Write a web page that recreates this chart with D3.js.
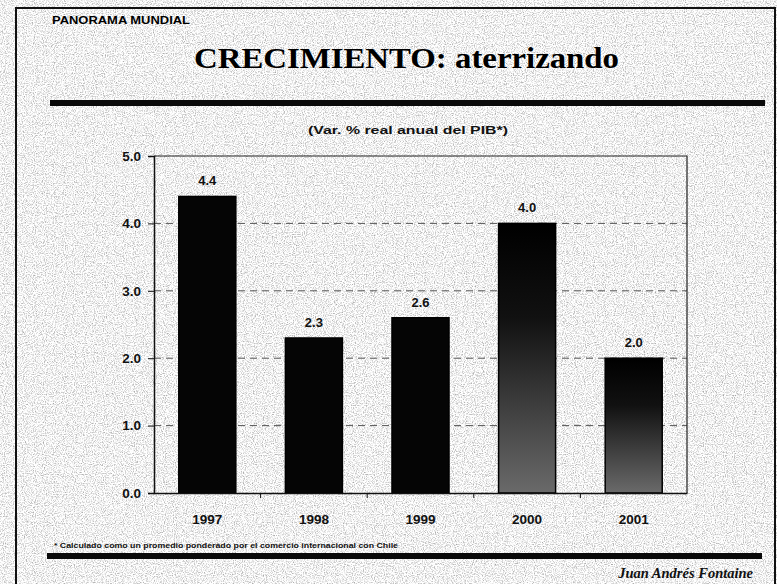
<!DOCTYPE html>
<html>
<head>
<meta charset="utf-8">
<script src="https://cdn.jsdelivr.net/npm/d3@7"></script>
<style>
  html, body { margin: 0; padding: 0; background: #fff; }
  svg { display: block; }
  .sans { font-family: Arial, "Liberation Sans", sans-serif; font-weight: bold; }
  .serif { font-family: "Times New Roman", "Liberation Serif", serif; }
</style>
</head>
<body>
<svg id="chart" width="777" height="584"></svg>
<script>
// GDP growth, real annual % change
const years = ["1997", "1998", "1999", "2000", "2001"];
const growth = [4.4, 2.3, 2.6, 4.0, 2.0];
const projected = [false, false, false, true, true];
const yTicks = [0, 1, 2, 3, 4, 5];

const W = 777, H = 584;
const svg = d3.select("#chart");

const defs = svg.append("defs");

// faint paper grain
const grain = defs.append("filter").attr("id", "grain")
  .attr("x", 0).attr("y", 0).attr("width", "100%").attr("height", "100%");
grain.append("feTurbulence").attr("type", "fractalNoise")
  .attr("baseFrequency", 0.9).attr("numOctaves", 2).attr("seed", 7).attr("result", "n");
grain.append("feColorMatrix").attr("in", "n").attr("type", "matrix")
  .attr("values", "0 0 0 0 0  0 0 0 0 0  0 0 0 0 0  0 0 0 -2.2 1.25");

// shading for projected years
const grad = defs.append("linearGradient").attr("id", "proj")
  .attr("x1", 0).attr("y1", 0).attr("x2", 0).attr("y2", 1);
grad.append("stop").attr("offset", "0%").attr("stop-color", "#000");
grad.append("stop").attr("offset", "35%").attr("stop-color", "#111");
grad.append("stop").attr("offset", "100%").attr("stop-color", "#6a6a6a");

svg.append("rect").attr("width", W).attr("height", H).attr("fill", "#fff");
svg.append("rect").attr("width", W).attr("height", H)
  .attr("filter", "url(#grain)").attr("opacity", 0.35);

// slide frame
svg.append("path").attr("d", `M16,${H} V8 H${W - 2} V${H}`)
  .attr("fill", "none").attr("stroke", "#111").attr("stroke-width", 2);

// header
svg.append("text").attr("class", "sans")
  .attr("x", 52).attr("y", 24).attr("font-size", 10.5)
  .attr("textLength", 138).attr("lengthAdjust", "spacingAndGlyphs")
  .attr("fill", "#000").text("PANORAMA MUNDIAL");

svg.append("text").attr("class", "serif")
  .attr("x", 194).attr("y", 68).attr("font-size", 30).attr("font-weight", "bold")
  .attr("textLength", 425).attr("lengthAdjust", "spacingAndGlyphs")
  .attr("fill", "#000").text("CRECIMIENTO:  aterrizando");

svg.append("rect").attr("x", 50).attr("y", 100).attr("width", 715).attr("height", 6).attr("fill", "#0a0a0a");

svg.append("text").attr("class", "sans")
  .attr("x", 408).attr("y", 134).attr("font-size", 11.5).attr("text-anchor", "middle")
  .attr("textLength", 200).attr("lengthAdjust", "spacingAndGlyphs")
  .attr("fill", "#111").text("(Var. % real anual del PIB*)");

// plot area bounds
const plotL = 154, plotR = 687, plotT = 156, plotB = 493;
const x = d3.scaleBand().domain(years).range([plotL, plotR])
  .paddingInner(0.465).paddingOuter(0.2325);
const y = d3.scaleLinear().domain([0, 5]).range([plotB, plotT]);

const g = svg.append("g");

// dashed gridlines
g.selectAll("line.grid").data(yTicks.filter(d => d > 0 && d < 5)).join("line")
  .attr("class", "grid")
  .attr("x1", plotL).attr("x2", plotR)
  .attr("y1", d => y(d)).attr("y2", d => y(d))
  .attr("stroke", "#555").attr("stroke-width", 1).attr("stroke-dasharray", "7,5");

// bars
g.selectAll("rect.bar").data(years).join("rect")
  .attr("class", "bar")
  .attr("x", d => x(d)).attr("width", x.bandwidth())
  .attr("y", (d, i) => y(growth[i]))
  .attr("height", (d, i) => y(0) - y(growth[i]))
  .attr("fill", (d, i) => projected[i] ? "url(#proj)" : "#050505")
  .attr("stroke", "#000").attr("stroke-width", 1.5);

// value labels
g.selectAll("text.val").data(years).join("text")
  .attr("class", "val sans")
  .attr("x", d => x(d) + x.bandwidth() / 2)
  .attr("y", (d, i) => y(growth[i]) - 11)
  .attr("text-anchor", "middle").attr("font-size", 13).attr("fill", "#111")
  .text((d, i) => growth[i].toFixed(1));

// plot frame (top and right edges)
g.append("path").attr("d", `M${plotL},${plotT} H${plotR} V${plotB}`)
  .attr("fill", "none").attr("stroke", "#222").attr("stroke-width", 1.2);

// y axis
const yAxis = g.append("g").attr("transform", `translate(${plotL},0)`)
  .call(d3.axisLeft(y).tickValues(yTicks).tickFormat(d3.format(".1f")).tickSize(6).tickPadding(7));
yAxis.select(".domain").attr("stroke", "#111").attr("stroke-width", 1.5);
yAxis.selectAll(".tick line").attr("stroke", "#111");
yAxis.selectAll("text").attr("class", "sans").attr("font-size", 13.5).attr("fill", "#111");

// x axis: ticks mark category boundaries
const xAxis = g.append("g").attr("transform", `translate(0,${plotB})`)
  .call(d3.axisBottom(x).tickSize(0).tickPadding(21));
xAxis.select(".domain").attr("stroke", "#111").attr("stroke-width", 1.5);
xAxis.selectAll("text").attr("class", "sans").attr("font-size", 13.5).attr("fill", "#111");
xAxis.selectAll("line.bound").data(years.slice(1)).join("line")
  .attr("class", "bound")
  .attr("x1", d => x(d) - x.step() * x.paddingInner() / 2)
  .attr("x2", d => x(d) - x.step() * x.paddingInner() / 2)
  .attr("y1", 0).attr("y2", 5).attr("stroke", "#111");

// footer
svg.append("text").attr("class", "sans")
  .attr("x", 54).attr("y", 548).attr("font-size", 8)
  .attr("textLength", 344).attr("lengthAdjust", "spacingAndGlyphs")
  .attr("fill", "#111").attr("font-weight", "normal")
  .text("* Calculado como un promedio ponderado por el comercio internacional con Chile");

svg.append("rect").attr("x", 47).attr("y", 553).attr("width", 715).attr("height", 6).attr("fill", "#0a0a0a");

svg.append("text").attr("class", "serif")
  .attr("x", 753).attr("y", 578).attr("font-size", 14.5)
  .attr("font-style", "italic").attr("font-weight", "bold").attr("text-anchor", "end")
  .attr("fill", "#111").text("Juan Andrés Fontaine");
</script>
</body>
</html>
